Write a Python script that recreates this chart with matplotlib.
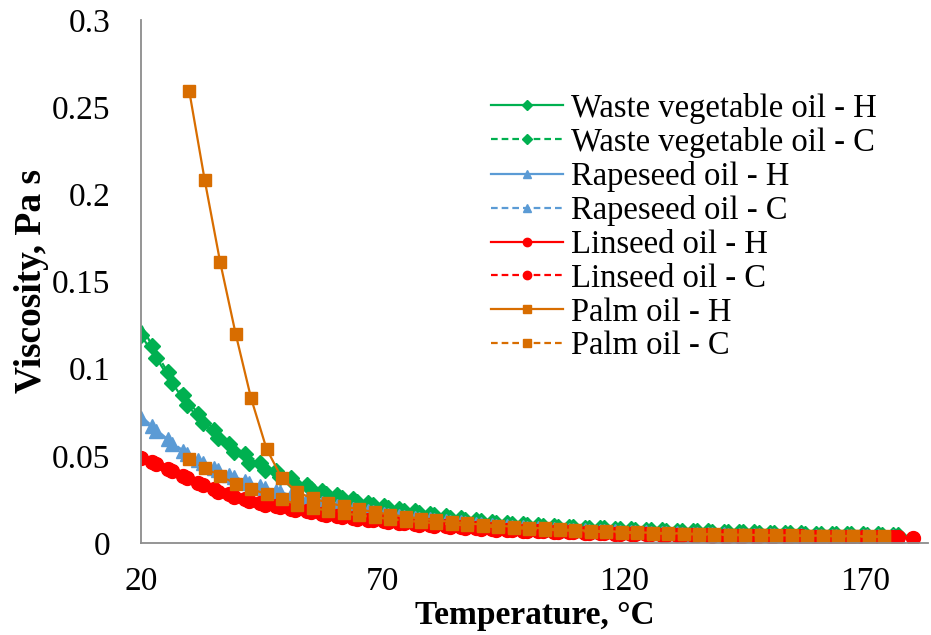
import matplotlib.pyplot as plt

plt.rcParams['font.family'] = ['Liberation Serif', 'DejaVu Serif']

# temperatures, degC (heating / cooling runs)
temp_h = [20.0, 23.2, 26.4, 29.6, 32.8, 36.0, 39.2, 42.4, 45.6, 48.8,
          52.0, 55.2, 58.4, 61.6, 64.8, 68.0, 71.2, 74.4, 77.6, 80.8,
          84.0, 87.2, 90.4, 93.6, 96.8, 100.0, 103.2, 106.4, 109.6, 112.8,
          116.0, 119.2, 122.4, 125.6, 128.8, 132.0, 135.2, 138.4, 141.6, 144.8,
          148.0, 151.2, 154.4, 157.6, 160.8, 164.0, 167.2, 170.4, 173.6, 176.8,
          180.0]
temp_c = [19.1, 22.3, 25.5, 28.7, 31.9, 35.1, 38.3, 41.5, 44.7, 47.9,
          51.1, 54.3, 57.5, 60.7, 63.9, 67.1, 70.3, 73.5, 76.7, 79.9,
          83.1, 86.3, 89.5, 92.7, 95.9, 99.1, 102.3, 105.5, 108.7, 111.9,
          115.1, 118.3, 121.5, 124.7, 127.9, 131.1, 134.3, 137.5, 140.7, 143.9,
          147.1, 150.3, 153.5, 156.7, 159.9, 163.1, 166.3, 169.5, 172.7, 175.9]
temp_palm = [30.0, 33.2, 36.4, 39.6, 42.8, 46.0, 49.2, 52.4, 55.6, 58.8,
             62.0, 65.2, 68.4, 71.6, 74.8, 78.0, 81.2, 84.4, 87.6, 90.8,
             94.0, 97.2, 100.4, 103.6, 106.8, 110.0, 113.2, 116.4, 119.6, 122.8,
             126.0, 129.2, 132.4, 135.6, 138.8, 142.0, 145.2, 148.4, 151.6, 154.8,
             158.0, 161.2, 164.4, 167.6, 170.8, 174.0]

# viscosity, Pa s
waste_h = [0.119, 0.106, 0.092, 0.079, 0.069, 0.060, 0.052, 0.046, 0.042, 0.038,
           0.034, 0.031, 0.028, 0.026, 0.0235, 0.0218, 0.020, 0.0185, 0.0172, 0.0158,
           0.0145, 0.0134, 0.0125, 0.0117, 0.0110, 0.0103, 0.0098, 0.0093, 0.0089, 0.0086,
           0.0083, 0.0080, 0.0077, 0.0074, 0.0071, 0.0068, 0.0066, 0.0064, 0.0062, 0.0060,
           0.0058, 0.0056, 0.0055, 0.0053, 0.0052, 0.0050, 0.0049, 0.0048, 0.0047, 0.0046]
waste_c = [0.130, 0.113, 0.098, 0.085, 0.074, 0.065, 0.057, 0.051, 0.046, 0.041,
           0.037, 0.033, 0.030, 0.0275, 0.025, 0.023, 0.0212, 0.0196, 0.0181, 0.0167,
           0.0154, 0.0142, 0.0131, 0.0122, 0.0114, 0.0107, 0.0101, 0.0096, 0.0092, 0.0088,
           0.0085, 0.0082, 0.0079, 0.0076, 0.0073, 0.0070, 0.0068, 0.0066, 0.0064, 0.0062,
           0.0060, 0.0058, 0.0057, 0.0055, 0.0054, 0.0052, 0.0051, 0.0050, 0.0049, 0.0048]
rape_h = [0.0717, 0.064, 0.057, 0.051, 0.046, 0.042, 0.038, 0.0345, 0.0315, 0.029,
          0.0265, 0.0243, 0.0223, 0.0205, 0.019, 0.0176, 0.0163, 0.0151, 0.014, 0.013,
          0.0121, 0.0113, 0.0106, 0.0099, 0.0093, 0.0087, 0.0082, 0.0077, 0.0073, 0.0069,
          0.0066, 0.0063, 0.006, 0.0057, 0.0055, 0.0053, 0.0051, 0.0049, 0.0047, 0.0046,
          0.0044, 0.0043, 0.0042, 0.0041, 0.004, 0.0039, 0.0038, 0.0037, 0.0036, 0.0035]
rape_c = [0.075, 0.067, 0.0595, 0.053, 0.0475, 0.043, 0.039, 0.0355, 0.0325, 0.0298,
          0.0273, 0.025, 0.023, 0.0212, 0.0196, 0.0181, 0.0168, 0.0156, 0.0145, 0.0135,
          0.0126, 0.0118, 0.011, 0.0103, 0.0097, 0.0091, 0.0086, 0.0081, 0.0077, 0.0073,
          0.0069, 0.0066, 0.0063, 0.006, 0.0058, 0.0055, 0.0053, 0.0051, 0.0049, 0.0048,
          0.0046, 0.0045, 0.0044, 0.0043, 0.0042, 0.0041, 0.004, 0.0039, 0.0038, 0.0037]
lin_h = [0.049, 0.045, 0.041, 0.037, 0.033, 0.029, 0.0265, 0.024, 0.022, 0.0205,
         0.019, 0.0175, 0.0162, 0.015, 0.0139, 0.0129, 0.012, 0.0112, 0.0104, 0.0097,
         0.0091, 0.0086, 0.0081, 0.0077, 0.0073, 0.0069, 0.0066, 0.0063, 0.006, 0.0057,
         0.0055, 0.0053, 0.0051, 0.0049, 0.0047, 0.0045, 0.0044, 0.0042, 0.0041, 0.004,
         0.0039, 0.0038, 0.0037, 0.0036, 0.0035, 0.0034, 0.0034, 0.0033, 0.0033, 0.0032,
         0.0031]
lin_c = [0.0505, 0.0465, 0.0425, 0.0385, 0.0345, 0.0308, 0.0278, 0.0252, 0.023, 0.0212,
         0.0196, 0.0181, 0.0167, 0.0155, 0.0144, 0.0134, 0.0124, 0.0116, 0.0108, 0.0101,
         0.0095, 0.0089, 0.0084, 0.0079, 0.0075, 0.0071, 0.0068, 0.0065, 0.0062, 0.0059,
         0.0057, 0.0054, 0.0052, 0.005, 0.0048, 0.0047, 0.0045, 0.0044, 0.0042, 0.0041,
         0.004, 0.0039, 0.0038, 0.0037, 0.0036, 0.0035, 0.0035, 0.0034, 0.0033, 0.0033]
palm_h = [0.259, 0.208, 0.161, 0.120, 0.083, 0.054, 0.037, 0.029, 0.0255, 0.023,
          0.021, 0.0192, 0.0177, 0.0163, 0.015, 0.0139, 0.0129, 0.012, 0.0112, 0.0105,
          0.0099, 0.0093, 0.0088, 0.0083, 0.0078, 0.0074, 0.007, 0.0067, 0.0064, 0.0061,
          0.0058, 0.0056, 0.0054, 0.0052, 0.005, 0.0048, 0.0047, 0.0045, 0.0044, 0.0043,
          0.0042, 0.0041, 0.004, 0.0039, 0.0038, 0.0037]
palm_c = [0.048, 0.043, 0.0385, 0.034, 0.031, 0.028, 0.025, 0.022, 0.020, 0.0185,
          0.017, 0.0158, 0.0147, 0.0137, 0.0128, 0.012, 0.0113, 0.0106, 0.010, 0.0095,
          0.009, 0.0085, 0.008, 0.0076, 0.0072, 0.0068, 0.0065, 0.0062, 0.0059, 0.0056,
          0.0054, 0.0052, 0.005, 0.0048, 0.0047, 0.0045, 0.0044, 0.0043, 0.0042, 0.0041,
          0.004, 0.0039, 0.0038, 0.0037, 0.0036, 0.0035]

green, blue, red, orange = '#00B050', '#5B9BD5', '#FF0000', '#D86D00'
dash = (0, (3, 1.8))

# cooling runs start just below 20 degC: line only, no marker at the edge
series = [
    (temp_h[:50], waste_h, 'Waste vegetable oil - H', green, '-', 'D', 8, None),
    (temp_c, waste_c, 'Waste vegetable oil - C', green, dash, 'D', 8, slice(1, None)),
    (temp_h[:50], rape_h, 'Rapeseed oil - H', blue, '-', '^', 10, None),
    (temp_c, rape_c, 'Rapeseed oil - C', blue, dash, '^', 10, slice(1, None)),
    (temp_h, lin_h, 'Linseed oil - H', red, '-', 'o', 10, None),
    (temp_c, lin_c, 'Linseed oil - C', red, dash, 'o', 10, slice(1, None)),
    (temp_palm, palm_h, 'Palm oil - H', orange, '-', 's', 9, None),
    (temp_palm, palm_c, 'Palm oil - C', orange, dash, 's', 9, None),
]

fig = plt.figure(figsize=(9.31, 6.35), dpi=100)
ax = fig.add_axes([0.1515, 0.145, 0.845, 0.8235])

for t, v, name, col, ls, mk, ms, every in series:
    ax.plot(t, v, color=col, linestyle=ls, linewidth=1.6, marker=mk,
            markersize=ms, markerfacecolor=col, markeredgecolor=col,
            markevery=every, label=name)

ax.set_xlim(20, 183)
ax.set_ylim(0, 0.3)
ax.set_xticks([20, 70, 120, 170])
ax.set_yticks([0, 0.05, 0.1, 0.15, 0.2, 0.25, 0.3])
ax.set_yticklabels(['0', '0.05', '0.1', '0.15', '0.2', '0.25', '0.3'])
ax.tick_params(axis='both', length=0, labelsize=24)
ax.tick_params(axis='x', pad=17)
ax.tick_params(axis='y', pad=22)

for side in ['top', 'right']:
    ax.spines[side].set_visible(False)
for side in ['left', 'bottom']:
    ax.spines[side].set_color('#8C8C8C')
    ax.spines[side].set_linewidth(1.3)

ax.set_xlabel('Temperature, °C', fontsize=24, fontweight='bold', labelpad=2)
ax.set_ylabel('Viscosity, Pa s', fontsize=27, fontweight='bold', labelpad=2)

leg = ax.legend(loc='upper left', bbox_to_anchor=(0.51, 0.88),
                bbox_transform=fig.transFigure, frameon=False, fontsize=23.5,
                handlelength=2.2, handletextpad=0.25, labelspacing=0.1,
                borderpad=0, markerscale=0.6)

fig.savefig('out.png', dpi=100)
